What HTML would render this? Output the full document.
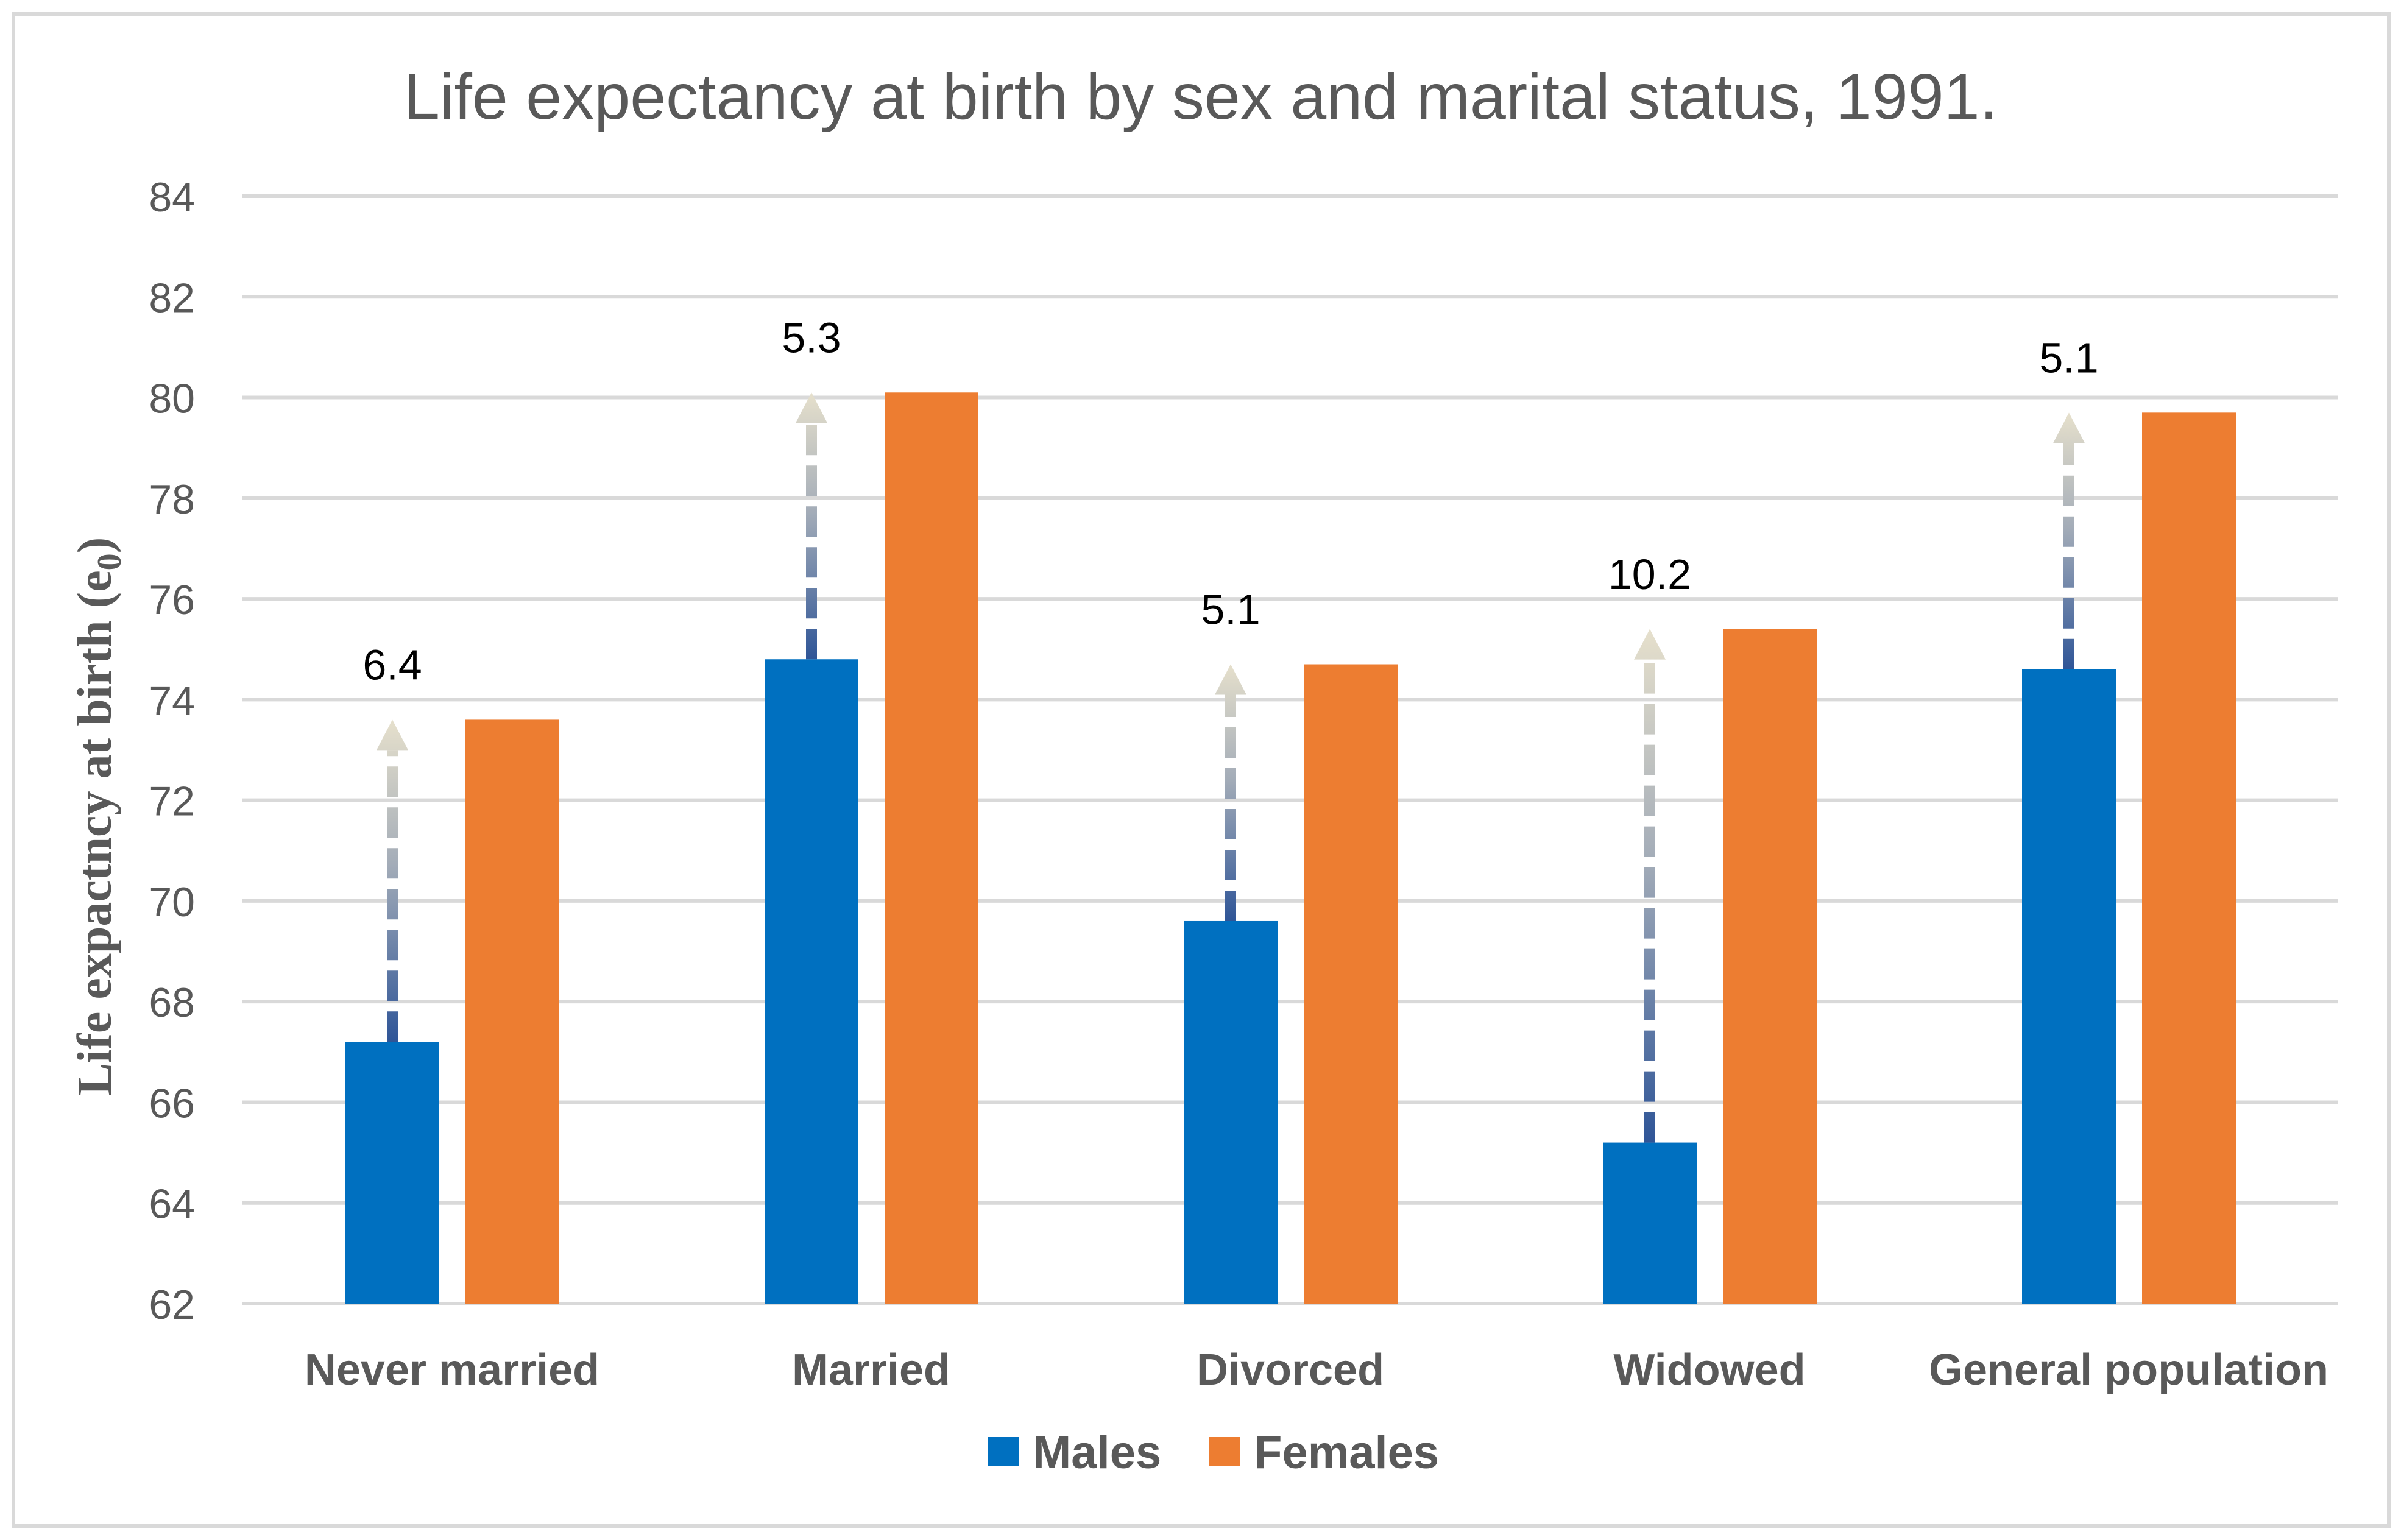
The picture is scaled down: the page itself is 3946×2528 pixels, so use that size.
<!DOCTYPE html>
<html><head><meta charset="utf-8"><style>
html,body{margin:0;padding:0;background:#fff;}
svg{display:block;}
</style></head><body>
<svg id="chart" width="3946" height="2528" viewBox="0 0 3946 2528" xmlns="http://www.w3.org/2000/svg">
<rect x="22" y="23" width="3899" height="2482" fill="#fff" stroke="#d9d9d9" stroke-width="6"/>
<text x="1971" y="195" text-anchor="middle" font-family="Liberation Sans, sans-serif" font-size="106" fill="#595959">Life expectancy at birth by sex and marital status, 1991.</text>
<text transform="translate(182,1340) rotate(-90)" text-anchor="middle" font-family="Liberation Serif, serif" font-weight="bold" font-size="80" fill="#595959">Life expactncy at birth (e<tspan font-size="56" dy="16">0</tspan><tspan dy="-16">)</tspan></text>
<g id="grid"></g><g id="bars"></g><g id="arrows"></g><g id="labels"></g>
<g>
<rect x="1622" y="2359" width="50" height="48" fill="#0070c0"/>
<text x="1695" y="2410" font-family="Liberation Sans, sans-serif" font-weight="bold" font-size="76" fill="#595959">Males</text>
<rect x="1985" y="2359" width="50" height="48" fill="#ed7d31"/>
<text x="2058" y="2410" font-family="Liberation Sans, sans-serif" font-weight="bold" font-size="76" fill="#595959">Females</text>
</g>
</svg>
<script>
const categories = ["Never married","Married","Divorced","Widowed","General population"];
const males = [67.2, 74.8, 69.6, 65.2, 74.6];
const females = [73.6, 80.1, 74.7, 75.4, 79.7];
const gaps = [6.4, 5.3, 5.1, 10.2, 5.1];
const yTicks = [62,64,66,68,70,72,74,76,78,80,82,84];

const NS = "http://www.w3.org/2000/svg";
const plotL = 398, plotR = 3838, yMin = 62, yMax = 84, yTop = 322, yBot = 2140;
const catW = (plotR - plotL) / categories.length;
function y(v){ return yBot - (v - yMin) / (yMax - yMin) * (yBot - yTop); }
function xCat(i){ return plotL + i * catW; }
function mk(tag, attrs, parent){ const e = document.createElementNS(NS, tag); for (const k in attrs) e.setAttribute(k, attrs[k]); parent.appendChild(e); return e; }

const grid = document.getElementById('grid');
yTicks.forEach(t => {
  const l = mk('line', {x1: plotL, x2: plotR, y1: y(t), y2: y(t), stroke: '#d9d9d9', 'stroke-width': 6}, grid);
  
  
  const tx = mk('text', {x: 320, y: y(t) + 25, 'text-anchor': 'end', 'font-family': 'Liberation Sans, sans-serif', 'font-size': 68, fill: '#595959'}, grid);
  tx.textContent = t;
  
  
});

const bars = document.getElementById('bars');
const arrows = document.getElementById('arrows');
const labels = document.getElementById('labels');
categories.forEach((c, i) => {
  const x0 = xCat(i);
  const mb = mk('rect', {x: x0 + 169, y: y(males[i]), width: 154, height: yBot - y(males[i]), fill: '#0070c0'}, bars);
  
  
  const fb = mk('rect', {x: x0 + 366, y: y(females[i]), width: 154, height: yBot - y(females[i]), fill: '#ed7d31'}, bars);
  
  
  const cl = mk('text', {x: x0 + catW / 2, y: 2273, 'text-anchor': 'middle', 'font-family': 'Liberation Sans, sans-serif', 'font-weight': 'bold', 'font-size': 72, fill: '#595959'}, labels);
  cl.textContent = c;
  
  

  const cx = x0 + 169 + 77;
  const tipV = males[i] + gaps[i];
  const yb = y(males[i]), yt = y(tipV);
  const g = mk('g', {}, arrows);
  
  
  const gid = 'ag' + i;
  const lg = mk('linearGradient', {id: gid, gradientUnits: 'userSpaceOnUse', x1: 0, y1: yb, x2: 0, y2: yt}, g);
  mk('stop', {offset: 0, 'stop-color': '#2f5597'}, lg);
  mk('stop', {offset: 0.55, 'stop-color': '#a3acb8'}, lg);
  mk('stop', {offset: 1, 'stop-color': '#e6e0cc'}, lg);
  mk('line', {x1: cx, x2: cx, y1: yb, y2: yt + 50, stroke: 'url(#' + gid + ')', 'stroke-width': 18, 'stroke-dasharray': '50 17'}, g);
  mk('polygon', {points: (cx - 26) + ',' + (yt + 50) + ' ' + (cx + 26) + ',' + (yt + 50) + ' ' + cx + ',' + yt, fill: 'url(#' + gid + ')'}, g);
  const vl = mk('text', {x: cx, y: y(tipV + 1.1) + 25, 'text-anchor': 'middle', 'font-family': 'Liberation Sans, sans-serif', 'font-size': 70, fill: '#000'}, labels);
  vl.textContent = gaps[i].toFixed(1);
  
  
});
</script>
</body></html>
